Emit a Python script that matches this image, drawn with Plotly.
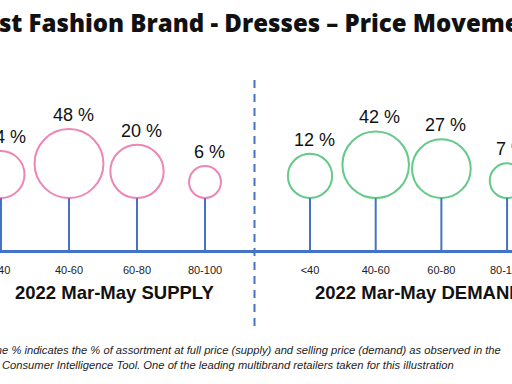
import math
import plotly.graph_objects as go
from plotly.subplots import make_subplots

# ---- data ----
categories = ["<40", "40-60", "60-80", "80-100"]
supply_values = [14, 48, 20, 6]
demand_values = [12, 42, 27, 7]
supply_title = "2022 Mar-May SUPPLY"
demand_title = "2022 Mar-May DEMAND"
chart_title = "Fast Fashion Brand - Dresses \u2013 Price Movement"
footnote_1 = "The % indicates the % of assortment at full price (supply) and selling price (demand) as observed in the"
footnote_2 = "Consumer Intelligence Tool. One of the leading multibrand retailers taken for this illustration"

# ---- style ----
PINK = "#e8529a"
GREEN = "#22b455"
BLUE = "#4472c4"
W, H = 512, 384
PLOT_H = 250          # plot area height in px (axis line at bottom)
STEM_PX = 52         # stem height in px
Y_MAX = PLOT_H / STEM_PX
PX_PER_UNIT = PLOT_H / Y_MAX
FONT = "Liberation Sans, Arial"


def diam(v):
    return 17.8 * math.log(v)


fig = make_subplots(rows=1, cols=2, horizontal_spacing=0)

groups = [
    (supply_values, PINK, 1, "x", "y"),
    (demand_values, GREEN, 2, "x2", "y2"),
]

annotations = []
for values, color, col, xr, yr in groups:
    sizes = [diam(v) for v in values]
    # stems
    sx, sy = [], []
    for c in categories:
        sx += [c, c, None]
        sy += [0, 1, None]
    fig.add_trace(go.Scatter(x=sx, y=sy, mode="lines",
                             line=dict(color=BLUE, width=2),
                             hoverinfo="skip", showlegend=False), row=1, col=col)
    # bubbles: bottom edge sits on top of the stem
    yc = [1 + (d / 2) / PX_PER_UNIT for d in sizes]
    fig.add_trace(go.Scatter(x=categories, y=yc, mode="markers",
                             marker=dict(size=sizes, color="rgba(0,0,0,0)",
                                         line=dict(color=color, width=2)),
                             showlegend=False), row=1, col=col)
    for c, v, d in zip(categories, values, sizes):
        annotations.append(dict(x=c, y=1, xref=xr, yref=yr, text=f"{v} %",
                                showarrow=False, yanchor="bottom", xshift=4,
                                yshift=d + 2,
                                font=dict(family=FONT, size=18, color="#111111")))

axis_common = dict(type="category", showline=True, linecolor=BLUE, linewidth=3,
                   showgrid=False, zeroline=False, ticks="", ticklabelstandoff=8,
                   automargin=False,
                   tickfont=dict(family=FONT, size=11, color="#222222"))
fig.update_xaxes(range=[-0.0147, 3.75], domain=[0, 0.5], **axis_common, row=1, col=1)
fig.update_xaxes(range=[-0.822, 3.075], domain=[0.5, 1], **axis_common, row=1, col=2)
fig.update_yaxes(range=[0, Y_MAX], visible=False, automargin=False)


def py(pix):
    return (PLOT_H - pix) / PLOT_H


annotations += [
    dict(x=-31 / W, y=py(23), xref="paper", yref="paper", text=chart_title,
         showarrow=False, xanchor="left", yanchor="middle",
         font=dict(family="Open Sans", size=24, color="#111111", weight=800)),
    dict(x=114 / W, y=py(292), xref="paper", yref="paper", text=f"<b>{supply_title}</b>",
         showarrow=False, xanchor="center", yanchor="middle",
         font=dict(family=FONT, size=18.5, color="#111111")),
    dict(x=313 / W, y=py(292), xref="paper", yref="paper", text=f"<b>{demand_title}</b>",
         showarrow=False, xanchor="left", yanchor="middle",
         font=dict(family=FONT, size=18.5, color="#111111")),
    dict(x=-13 / W, y=py(350), xref="paper", yref="paper", text=f"<i>{footnote_1}</i>",
         showarrow=False, xanchor="left", yanchor="middle",
         font=dict(family=FONT, size=11.2, color="#222222")),
    dict(x=0 / W, y=py(365), xref="paper", yref="paper", text=f"<i>{footnote_2}</i>",
         showarrow=False, xanchor="left", yanchor="middle",
         font=dict(family=FONT, size=11.2, color="#222222")),
]

fig.add_shape(type="line", xref="paper", yref="paper",
              x0=254.5 / W, x1=254.5 / W, y0=py(80), y1=py(330),
              line=dict(color=BLUE, width=2, dash="8px,6px"))

fig.update_layout(width=W, height=H, margin=dict(l=0, r=0, t=0, b=H - PLOT_H, autoexpand=False),
                  paper_bgcolor="white", plot_bgcolor="white",
                  annotations=annotations, showlegend=False)

fig.write_html("out.html", config={"displayModeBar": False},
               post_script="document.body.style.margin='0';document.body.style.overflow='hidden';")
